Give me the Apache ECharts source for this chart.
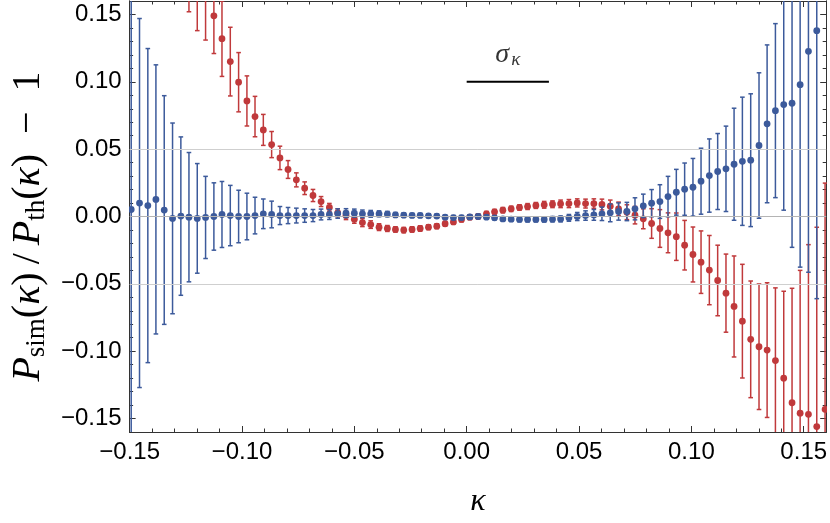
<!DOCTYPE html>
<html>
<head>
<meta charset="utf-8">
<script src="https://cdn.jsdelivr.net/npm/echarts@6.0.0/dist/echarts.min.js"></script>
<style>
  html, body { margin: 0; padding: 0; background: #fff; }
  #chart { width: 830px; height: 523px; }
</style>
</head>
<body>
<div id="chart"></div>
<script>
// bin centres (kappa)
const kappa = [
  -0.1493, -0.1456, -0.1419, -0.1383, -0.1346, -0.1309, -0.1272, -0.1236, -0.1199, -0.1162,
  -0.1125, -0.1089, -0.1052, -0.1015, -0.0978, -0.0942, -0.0905, -0.0868, -0.0831, -0.0795,
  -0.0758, -0.0721, -0.0684, -0.0648, -0.0611, -0.0574, -0.0537, -0.0500, -0.0464, -0.0427,
  -0.0390, -0.0353, -0.0317, -0.0280, -0.0243, -0.0207, -0.0170, -0.0133, -0.0096, -0.0059,
  -0.0023, 0.0014, 0.0051, 0.0088, 0.0124, 0.0161, 0.0198, 0.0235, 0.0271, 0.0308,
  0.0345, 0.0382, 0.0418, 0.0455, 0.0492, 0.0529, 0.0566, 0.0602, 0.0639, 0.0676,
  0.0713, 0.0749, 0.0786, 0.0823, 0.0860, 0.0896, 0.0933, 0.0970, 0.1007, 0.1043,
  0.1080, 0.1117, 0.1154, 0.1190, 0.1227, 0.1264, 0.1301, 0.1337, 0.1374, 0.1411,
  0.1448, 0.1484, 0.1521, 0.1558, 0.1595
];

// blue series
const blueVal = [
  0.0052, 0.0100, 0.0081, 0.0127, 0.0048, -0.0014, 0.0003, -0.0005, -0.0014, -0.0007,
  0.0000, 0.0015, 0.0007, 0.0000, 0.0000, 0.0007, 0.0020, 0.0015, 0.0007, 0.0007,
  0.0007, 0.0007, 0.0007, 0.0015, 0.0015, 0.0022, 0.0025, 0.0025, 0.0020, 0.0020,
  0.0020, 0.0018, 0.0012, 0.0010, 0.0008, 0.0008, 0.0005, 0.0003, -0.0005, -0.0008,
  -0.0008, -0.0003, 0.0000, -0.0005, -0.0010, -0.0018, -0.0020, -0.0022, -0.0022, -0.0022,
  -0.0022, -0.0020, -0.0018, -0.0010, 0.0000, 0.0007, 0.0012, 0.0020, 0.0027, 0.0037,
  0.0037, 0.0057, 0.0079, 0.0099, 0.0111, 0.0148, 0.0180, 0.0203, 0.0217, 0.0262,
  0.0304, 0.0334, 0.0354, 0.0388, 0.0410, 0.0418, 0.0527, 0.0688, 0.0786, 0.0831,
  0.0841, 0.0979, 0.1226, 0.1380, null
];
const blueErr = [
  0.200, 0.137, 0.1166, 0.0999, 0.0849, 0.0708, 0.0588, 0.048, 0.0407, 0.0305,
  0.025, 0.0245, 0.0224, 0.0195, 0.0173, 0.0136, 0.011, 0.0099, 0.0067, 0.006,
  0.0055, 0.005, 0.0045, 0.004, 0.0037, 0.0035, 0.0033, 0.003, 0.0028, 0.0025,
  0.0022, 0.002, 0.0018, 0.0016, 0.0015, 0.0015, 0.0015, 0.0015, 0.0015, 0.0015,
  0.0015, 0.0015, 0.0015, 0.0015, 0.0015, 0.0016, 0.0016, 0.0017, 0.0018, 0.0018,
  0.0019, 0.002, 0.0022, 0.0025, 0.003, 0.0035, 0.004, 0.005, 0.0066, 0.0064,
  0.0068, 0.0082, 0.0087, 0.0101, 0.0125, 0.015, 0.017, 0.0194, 0.0214, 0.0245,
  0.0272, 0.0282, 0.0317, 0.0416, 0.0476, 0.0493, 0.054, 0.0586, 0.0646, 0.0784,
  0.107, 0.1355, 0.164, 0.199, null
];

// red series
const redVal = [
  null, null, null, null, null, null, null, 0.200, 0.183, 0.166,
  0.149, 0.132, 0.115, 0.0997, 0.0858, 0.0742, 0.0643, 0.0534, 0.0435, 0.0349,
  0.0272, 0.0210, 0.0156, 0.0111, 0.0067, 0.0027, 0.0007, -0.0020, -0.0045, -0.0060,
  -0.0079, -0.0089, -0.0096, -0.0101, -0.0096, -0.0089, -0.0079, -0.0072, -0.0054, -0.0040,
  -0.0022, -0.0005, 0.0000, 0.0020, 0.0035, 0.0047, 0.0057, 0.0067, 0.0074, 0.0082,
  0.0087, 0.0091, 0.0094, 0.0096, 0.0101, 0.0096, 0.0096, 0.0089, 0.0077, 0.0057,
  0.0032, 0.0010, -0.0017, -0.0052, -0.0089, -0.0121, -0.0150, -0.0213, -0.0282, -0.0339,
  -0.0398, -0.0475, -0.0569, -0.0668, -0.0777, -0.0912, -0.0967, -0.0992, -0.1070, -0.1200,
  -0.1383, -0.1460, -0.1469, -0.1560, -0.1432
];
const redErr = [
  null, null, null, null, null, null, null, 0.048, 0.045, 0.035,
  0.028, 0.028, 0.0255, 0.022, 0.0186, 0.015, 0.0115, 0.0097, 0.0087, 0.0066,
  0.0052, 0.0047, 0.0045, 0.0037, 0.003, 0.003, 0.003, 0.003, 0.003, 0.0028,
  0.0025, 0.0022, 0.002, 0.002, 0.002, 0.002, 0.0018, 0.0018, 0.0018, 0.0018,
  0.0018, 0.0018, 0.0018, 0.0018, 0.0018, 0.002, 0.002, 0.002, 0.0022, 0.0022,
  0.0025, 0.0025, 0.0028, 0.003, 0.003, 0.0033, 0.0035, 0.004, 0.0045, 0.005,
  0.0055, 0.0065, 0.0074, 0.011, 0.014, 0.0148, 0.0176, 0.0184, 0.0204, 0.0232,
  0.0257, 0.0262, 0.029, 0.0375, 0.0422, 0.0433, 0.0466, 0.05, 0.054, 0.0645,
  0.085, 0.106, 0.126, 0.148, 0.168
];

// sigma_kappa marker
const sigmaKappa = 0.0366;
const sigmaY = 0.1;

// ticks
const majorTicks = [-0.15, -0.10, -0.05, 0.00, 0.05, 0.10, 0.15];
const minorTicks = [-0.14, -0.13, -0.12, -0.11, -0.09, -0.08, -0.07, -0.06, -0.04, -0.03, -0.02, -0.01,
  0.01, 0.02, 0.03, 0.04, 0.06, 0.07, 0.08, 0.09, 0.11, 0.12, 0.13, 0.14];
const gridLines = [-0.05, 0, 0.05];

const xMin = -0.15, xMax = 0.16;
const yMin = -0.16, yMax = 0.16;

const blue = '#3c5a9b';
const red = '#c0393b';
const frameColor = '#333';
const serif = 'Liberation Serif, DejaVu Serif, serif';

const fmt = v => v.toFixed(2).replace('-', '\u2212');

function frameAxis(pos, min, max, ticks, len, label) {
  return {
    type: 'value', position: pos, min: min, max: max,
    axisLine: { show: true, onZero: false, lineStyle: { color: frameColor, width: 1 } },
    axisTick: { show: true, inside: true, length: len, customValues: ticks,
      lineStyle: { color: frameColor, width: 1 } },
    axisLabel: label ? {
      show: true, customValues: ticks, formatter: fmt, margin: 8,
      showMinLabel: true, showMaxLabel: true,
      color: '#000', fontSize: 24, fontFamily: 'Liberation Sans, Arial, sans-serif'
    } : { show: false },
    splitLine: { show: false }
  };
}

function barSeries(vals, errs, color, z) {
  const data = [];
  kappa.forEach((k, i) => { if (vals[i] !== null) data.push([k, vals[i], errs[i]]); });
  return {
    type: 'custom', xAxisIndex: 0, yAxisIndex: 0, clip: true, z: z, silent: true,
    encode: { x: 0, y: 1 },
    data: data,
    renderItem: function (params, api) {
      const x = api.value(0), y = api.value(1), e = api.value(2);
      const c = api.coord([x, y]);
      const hi = api.coord([x, y + e])[1];
      const lo = api.coord([x, y - e])[1];
      const w = 2.3;
      const ls = { stroke: color, lineWidth: 1.5 };
      return {
        type: 'group',
        children: [
          { type: 'line', shape: { x1: c[0], y1: hi, x2: c[0], y2: lo }, style: ls },
          { type: 'line', shape: { x1: c[0] - w, y1: hi, x2: c[0] + w, y2: hi }, style: ls },
          { type: 'line', shape: { x1: c[0] - w, y1: lo, x2: c[0] + w, y2: lo }, style: ls },
          { type: 'circle', shape: { cx: c[0], cy: c[1], r: 3.4 }, style: { fill: color } }
        ]
      };
    }
  };
}

const xBottom = frameAxis('bottom', xMin, xMax, majorTicks, 6, true);
xBottom.name = '\u03ba';
xBottom.nameLocation = 'middle';
xBottom.nameGap = 54;
xBottom.nameTextStyle = { color: '#000', fontSize: 32, fontStyle: 'italic', fontFamily: serif };

const yLeft = frameAxis('left', yMin, yMax, majorTicks, 6, true);
yLeft.name = '{i|P}{sub|sim}{r|(}{i|\u03ba}{r|)\u2009/\u2009}{i|P}{sub|th}{r|(}{i|\u03ba}{r|)\u2002\u2212\u20021}{gap|}';
yLeft.nameLocation = 'middle';
yLeft.nameRotate = 90;
yLeft.nameGap = 61;
yLeft.nameTextStyle = {
  color: '#000',
  rich: {
    i: { fontSize: 40, fontStyle: 'italic', fontFamily: serif, color: '#000' },
    r: { fontSize: 40, fontFamily: serif, color: '#000' },
    sub: { fontSize: 27, fontFamily: serif, color: '#000', padding: [17, 0, 0, 0] },
    gap: { width: 20 }
  }
};

const option = {
  animation: false,
  backgroundColor: '#fff',
  grid: { left: 127, right: 3, top: 1, bottom: 91, containLabel: false },
  xAxis: [
    xBottom,
    frameAxis('bottom', xMin, xMax, minorTicks, 3.5, false),
    frameAxis('top', xMin, xMax, majorTicks, 6, false),
    frameAxis('top', xMin, xMax, minorTicks, 3.5, false)
  ],
  yAxis: [
    yLeft,
    frameAxis('left', yMin, yMax, minorTicks, 3.5, false),
    frameAxis('right', yMin, yMax, majorTicks, 6, false),
    frameAxis('right', yMin, yMax, minorTicks, 3.5, false)
  ],
  series: [
    {
      // horizontal grid lines + sigma_kappa bar
      type: 'line', xAxisIndex: 0, yAxisIndex: 0, z: 1, silent: true,
      data: [[0, sigmaY], [sigmaKappa, sigmaY]],
      showSymbol: false, symbol: 'none',
      lineStyle: { color: '#000', width: 2 },
      markLine: {
        silent: true, symbol: 'none', label: { show: false },
        data: gridLines.map(v => ({
          yAxis: v,
          lineStyle: { color: v === 0 ? '#b4b4b4' : '#cfcfcf', width: 1, type: 'solid' }
        }))
      }
    },
    {
      type: 'scatter', xAxisIndex: 0, yAxisIndex: 0, z: 1, silent: true,
      data: [[sigmaKappa / 2, sigmaY]],
      symbolSize: 0,
      label: {
        show: true, position: 'top', distance: 12,
        formatter: '{s|\u03c3}{k|\u03ba}',
        rich: {
          s: { fontSize: 28, fontStyle: 'italic', fontFamily: serif, color: '#000' },
          k: { fontSize: 19, fontStyle: 'italic', fontFamily: serif, color: '#000', padding: [12, 0, 0, 2] }
        }
      }
    },
    barSeries(redVal, redErr, red, 3),
    barSeries(blueVal, blueErr, blue, 4)
  ]
};

const chart = echarts.init(document.getElementById('chart'), null, { renderer: 'canvas' });
chart.setOption(option);
</script>
</body>
</html>
